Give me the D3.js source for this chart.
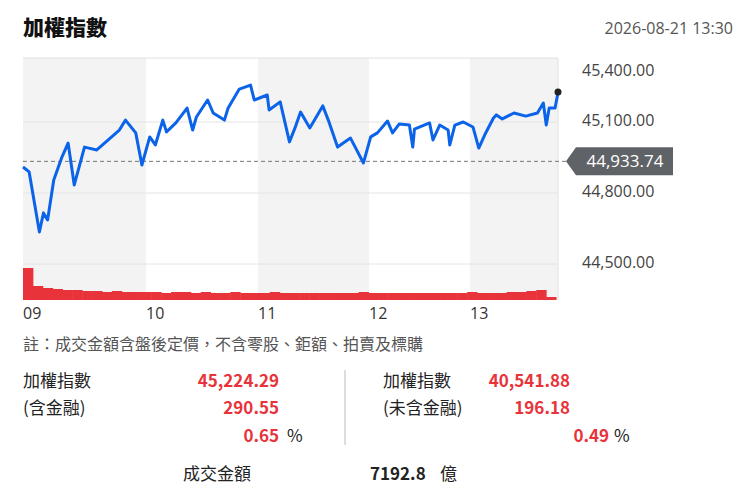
<!DOCTYPE html>
<html><head><meta charset="utf-8">
<script src="https://cdn.jsdelivr.net/npm/d3@7"></script>
<style>body{margin:0;background:#fff;font-family:"Noto Sans CJK TC","Noto Sans",sans-serif}</style>
</head><body><svg id="c" width="750" height="500"></svg>
<script>
const times=["09:00","09:03","09:08","09:10","09:12","09:15","09:19","09:22","09:25","09:30","09:36","09:42","09:47","09:50","09:55","09:58","10:02","10:05","10:09","10:11","10:16","10:22","10:25","10:27","10:33","10:36","10:42","10:44","10:50","10:56","10:58","11:05","11:06","11:12","11:17","11:20","11:23","11:28","11:35","11:38","11:43","11:50","11:57","12:01","12:05","12:11","12:14","12:18","12:24","12:26","12:27","12:36","12:38","12:42","12:47","12:48","12:51","12:56","13:01","13:03","13:05","13:08","13:09","13:11","13:15","13:19","13:23","13:25","13:26","13:27","13:29","13:30"];
const prices=[44910,44889,44635,44716,44686,44855,44952,45011,44834,44994,44982,45028,45066,45108,45054,44918,45037,45003,45108,45058,45096,45159,45066,45121,45193,45138,45108,45159,45239,45256,45193,45214,45151,45185,45016,45075,45142,45075,45168,45108,44994,45032,44927,45037,45054,45104,45054,45092,45087,44994,45070,45096,45024,45087,45066,45003,45087,45100,45079,44990,45045,45117,45130,45113,45138,45125,45138,45180,45087,45159,45159,45224.29];
const volume=[32,14,12,11,10,10,9,9,8,9,8,8,8,8,7,8,8,7,8,7,7,8,7,7,7,8,7,7,7,7,7,7,7,7,8,7,7,7,7,7,7,7,7,7,7,8,7,7,7,8,8,9,10,3];
const prevClose=44933.74;
const yTicks=[45400,45100,44800,44500];
const hourTicks=["09","10","11","12","13"];
const stats={left:["加權指數","(含金融)","45,224.29","290.55","0.65"],right:["加權指數","(未含金融)","40,541.88","196.18","0.49"]};

const svg=d3.select("#c");
const L=23,R=558,T=58,B=300;
const hr=s=>{const[a,b]=s.split(":").map(Number);return a+b/60;};
const x=d3.scaleLinear().domain([9,10,11,12,13,13.5]).range([L,146,258,369,470,R]);
const y=d3.scaleLinear().domain([44800,45100]).range([193,122]);
const vy=d3.scaleLinear().domain([0,32]).range([B,268]);
const red="#e8333a";
[[9,10],[11,12],[13,13.5]].forEach(b=>svg.append("rect").attr("x",x(b[0])).attr("y",T).attr("width",x(b[1])-x(b[0])).attr("height",B-T).attr("fill","#f3f3f3"));
svg.append("line").attr("x1",L).attr("x2",R).attr("y1",T).attr("y2",T).attr("stroke","#e2e2e2");
svg.append("line").attr("x1",R).attr("x2",R).attr("y1",T).attr("y2",B).attr("stroke","#e2e2e2");
yTicks.slice(1).forEach(v=>svg.append("line").attr("x1",L).attr("x2",R).attr("y1",y(v)).attr("y2",y(v)).attr("stroke","#e4e4e4"));
yTicks.forEach(v=>svg.append("text").attr("x",582).attr("y",Math.max(y(v)-2,T+12)).attr("dy","0.35em").attr("font-size",16).attr("fill","#444").attr("font-family","Open Sans, sans-serif").text(d3.format(",.2f")(v)));
const vx=d3.scaleBand().domain(d3.range(volume.length)).range([L,x(13.5)-2]).padding(0);
svg.append("g").selectAll("rect").data(volume).join("rect").attr("x",(d,i)=>vx(i)).attr("width",vx.bandwidth()+0.5).attr("y",d=>vy(d)).attr("height",d=>B-vy(d)).attr("fill",red);
svg.append("line").attr("x1",L).attr("x2",566).attr("y1",y(prevClose)).attr("y2",y(prevClose)).attr("stroke","#777").attr("stroke-dasharray","4,3");
const py=y(prevClose);
svg.append("path").attr("d",`M566,${py}L576,${py-14}H673V${py+14}H576Z`).attr("fill","#5f6368");
svg.append("text").attr("x",625).attr("y",py).attr("dy","0.36em").attr("text-anchor","middle").attr("fill","#fff").attr("font-size",17).attr("font-family","Open Sans, sans-serif").text(d3.format(",.2f")(prevClose));
const data=times.map((t,i)=>({t:hr(t),v:prices[i]}));
svg.append("path").datum(data).attr("d",d3.line().x(d=>x(d.t)).y(d=>y(d.v))).attr("fill","none").attr("stroke","#0a63e8").attr("stroke-width",3).attr("stroke-linejoin","round");
svg.append("circle").attr("cx",x(13.5)).attr("cy",y(prices[prices.length-1])-0.5).attr("r",3.5).attr("fill","#222");
hourTicks.forEach(h=>svg.append("text").attr("x",x(+h)).attr("y",319).attr("font-size",16).attr("fill","#333").attr("font-family","Open Sans, sans-serif").text(h));
svg.append("text").attr("x",23).attr("y",35).attr("font-size",21).attr("font-weight","900").attr("fill","#111").text("加權指數");
svg.append("text").attr("x",733).attr("y",34).attr("text-anchor","end").attr("font-size",16).attr("fill","#555").attr("font-family","Open Sans, sans-serif").text("2026-08-21 13:30");
svg.append("text").attr("x",23).attr("y",350).attr("font-size",16).attr("fill","#555").text("註：成交金額含盤後定價，不含零股、鉅額、拍賣及標購");
const ts=(t,xx,yy,o={})=>svg.append("text").attr("x",xx).attr("y",yy).attr("font-size",17).attr("fill",o.fill||"#222").attr("text-anchor",o.anchor||"start").attr("font-weight",o.bold?"bold":"normal").text(t);
[[stats.left,23,279,279,287],[stats.right,383,570,609,614]].forEach(([s,lx,rx,rx3,px])=>{
  ts(s[0],lx,387);ts(s[1],lx,414);
  ts(s[2],rx,387,{fill:red,anchor:"end",bold:true});
  ts(s[3],rx,414,{fill:red,anchor:"end",bold:true});
  ts(s[4],rx3,442,{fill:red,anchor:"end",bold:true});
  ts("%",px,442);
});
svg.append("line").attr("x1",345).attr("x2",345).attr("y1",370).attr("y2",445).attr("stroke","#bbb");
ts("成交金額",183,480);
ts("7192.8",370,480,{bold:true});
ts("億",440,480);
</script></body></html>
